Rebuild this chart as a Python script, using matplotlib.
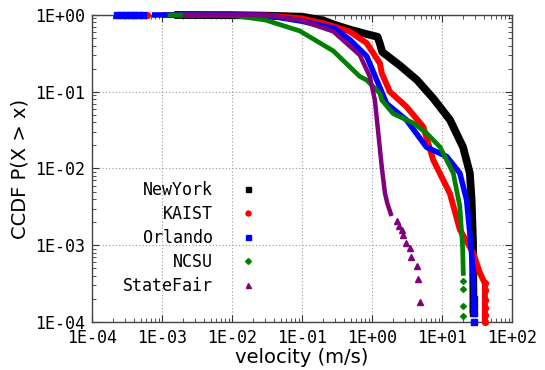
import numpy as np
import matplotlib
matplotlib.use("Agg")
import matplotlib.pyplot as plt
from matplotlib.ticker import FixedLocator, FuncFormatter, NullFormatter

# ---------------- data ----------------
series_names = ["NewYork", "KAIST", "Orlando", "NCSU", "StateFair"]

ny_x = [1.5e-3, 1e-2, 0.03, 0.1, 0.2, 0.3, 0.5, 0.8, 1.2, 1.3, 1.4, 2.5, 4.4, 7.5, 13, 20, 25, 26.5, 27.8, 28.2]
ny_y = [1, 0.995, 0.98, 0.95, 0.85, 0.74, 0.64, 0.57, 0.52, 0.42, 0.33, 0.22, 0.142, 0.082, 0.043, 0.019, 0.0087, 0.0039, 0.00107, 0.00013]
ny_tail_x = [28.2, 28.2]
ny_tail_y = [1.6e-4, 1.3e-4]

ka_x = [1e-3, 1e-2, 0.03, 0.1, 0.2, 0.3, 0.48, 0.84, 1.3, 1.38, 1.8, 3.1, 5.4, 7.5, 13, 18, 28, 35, 41, 41]
ka_y = [1, 1, 0.99, 0.9, 0.78, 0.7, 0.61, 0.43, 0.234, 0.174, 0.1, 0.064, 0.035, 0.0129, 0.0047, 0.0016, 0.00079, 0.00043, 0.00032, 0.0001]
ka_tail_x = [6.1e-4, 41, 41, 41, 41, 41, 41]
ka_tail_y = [1, 3.2e-4, 2.6e-4, 1.95e-4, 1.5e-4, 1.23e-4, 1e-4]

or_x = [7.2e-4, 1e-2, 0.03, 0.1, 0.3, 0.49, 0.84, 1.17, 1.62, 3.1, 6.0, 11.7, 18, 22.5, 25, 27.5, 28.6]
or_y = [1, 1, 0.99, 0.83, 0.66, 0.47, 0.29, 0.142, 0.07, 0.043, 0.019, 0.0143, 0.0087, 0.0039, 0.00144, 0.000525, 0.00022]
or_tail_x = [2.3e-4, 2.7e-4, 3.1e-4, 3.5e-4, 4.0e-4, 4.6e-4, 5.3e-4, 28.6, 28.6, 28.6, 28.6]
or_tail_y = [1, 1, 1, 1, 1, 1, 1, 2.0e-4, 1.6e-4, 1.3e-4, 1e-4]

nc_x = [1.2e-3, 0.01, 0.03, 0.093, 0.28, 0.67, 0.84, 1.3, 1.38, 2.0, 3.9, 6.0, 9.4, 14.5, 18, 19.7, 20.2]
nc_y = [1, 0.99, 0.86, 0.62, 0.34, 0.158, 0.142, 0.095, 0.078, 0.052, 0.039, 0.029, 0.019, 0.0087, 0.0032, 0.00096, 0.0004]
nc_tail_x = [20.2, 20.2, 20.2, 20.2]
nc_tail_y = [3.4e-4, 2.7e-4, 1.6e-4, 1.2e-4]

sf_x = [2e-3, 0.01, 0.03, 0.093, 0.28, 0.67, 0.93, 1.1, 1.23, 1.38, 1.53, 1.66, 1.9]
sf_y = [1, 1, 0.99, 0.86, 0.61, 0.30, 0.158, 0.078, 0.029, 0.0105, 0.0048, 0.0035, 0.0024]
sf_tail_x = [2.25, 2.45, 2.65, 2.8, 3.06, 3.49, 3.6, 4.44, 4.6, 4.85]
sf_tail_y = [2.1e-3, 1.8e-3, 1.6e-3, 1.35e-3, 1.07e-3, 9.1e-4, 7.1e-4, 5.4e-4, 3.6e-4, 1.8e-4]

x_ticks = [1e-4, 1e-3, 1e-2, 1e-1, 1e0, 1e1, 1e2]
y_ticks = [1e-4, 1e-3, 1e-2, 1e-1, 1e0]

x_label = "velocity (m/s)"
y_label = "CCDF P(X > x)"

# ---------------- figure ----------------
fig = plt.figure(figsize=(5.45, 3.70), dpi=100)
ax = fig.add_axes([0.1688, 0.1297, 0.7706, 0.8298])
ax.set_xscale("log")
ax.set_yscale("log")
ax.set_xlim(x_ticks[0], x_ticks[-1])
ax.set_ylim(y_ticks[0], y_ticks[-1])

styles = [
    ("black", "s", 5.6, 4.8),
    ("#ff0000", "o", 4.3, 4.2),
    ("#0000ff", "s", 4.0, 4.0),
    ("#008000", "D", 3.4, 3.0),
    ("#800080", "^", 3.2, 3.8),
]
curves = [(ny_x, ny_y, ny_tail_x, ny_tail_y),
          (ka_x, ka_y, ka_tail_x, ka_tail_y),
          (or_x, or_y, or_tail_x, or_tail_y),
          (nc_x, nc_y, nc_tail_x, nc_tail_y),
          (sf_x, sf_y, sf_tail_x, sf_tail_y)]

for i, ((cx, cy, tx, ty), (col, mk, lw, ms)) in enumerate(zip(curves, styles)):
    ax.plot(cx, cy, color=col, lw=lw, solid_joinstyle="round", solid_capstyle="butt",
            clip_on=False, zorder=3 + i)
    ax.plot(tx, ty, ls="none", marker=mk, ms=ms, color=col, mec=col,
            clip_on=False, zorder=3 + i)
    # legend proxy
    ax.plot([], [], ls="none", marker=mk, ms=3.6 if mk != "D" else 3.0,
            color=col, label=series_names[i])

# ticks / grid
def fmt(v, pos):
    e = int(round(np.log10(v)))
    return "1E%+03d" % e

def minors(ticks):
    return [t * m for t in ticks[:-1] for m in range(2, 10)]

ax.xaxis.set_major_locator(FixedLocator(x_ticks))
ax.yaxis.set_major_locator(FixedLocator(y_ticks))
ax.xaxis.set_minor_locator(FixedLocator(minors(x_ticks)))
ax.yaxis.set_minor_locator(FixedLocator(minors(y_ticks)))
for axis in (ax.xaxis, ax.yaxis):
    axis.set_major_formatter(FuncFormatter(fmt))
    axis.set_minor_formatter(NullFormatter())

ax.tick_params(which="both", direction="in", top=True, right=True, color="#333333")
ax.tick_params(which="major", length=5, width=0.8, labelsize=12, pad=5)
ax.tick_params(which="minor", length=3, width=0.6)
for lab in ax.get_xticklabels() + ax.get_yticklabels():
    lab.set_family("DejaVu Sans Mono")

ax.grid(which="major", ls=(0, (1, 2)), color="#999999", lw=0.8)
ax.set_axisbelow(True)
for s in ax.spines.values():
    s.set_color("#444444")
    s.set_linewidth(1.0)

ax.set_xlabel(x_label, family="DejaVu Sans", fontsize=14, labelpad=1)
ax.set_ylabel(y_label, family="DejaVu Sans", fontsize=14, labelpad=4)

leg = ax.legend(loc="upper right", bbox_to_anchor=(0.392, 0.46), frameon=False,
                markerfirst=False, numpoints=1, handlelength=1.0, handletextpad=1.6,
                borderpad=0, borderaxespad=0, labelspacing=0.36,
                prop={"family": "DejaVu Sans Mono", "size": 12})

fig.savefig("out.png", dpi=100)
